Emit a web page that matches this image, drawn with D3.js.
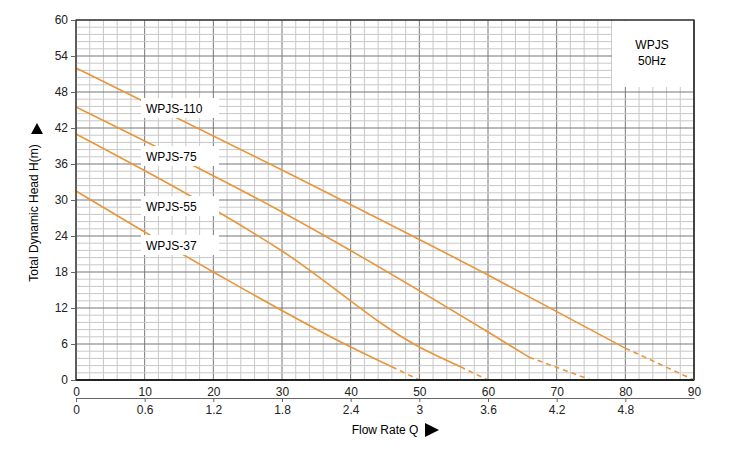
<!DOCTYPE html>
<html><head><meta charset="utf-8">
<script src="https://cdn.jsdelivr.net/npm/d3@7"></script>
<style>body{margin:0;background:#fff;font-family:"Liberation Sans",Arial,sans-serif;}</style>
</head><body><div id="chart"></div>
<script>
// flow in L/min, head in m
var names = ["WPJS-110", "WPJS-75", "WPJS-55", "WPJS-37"];
var flows = [
  [0, 30, 60, 80, 90],
  [0, 30, 60, 66, 75],
  [0, 30, 50, 56, 60],
  [0, 20, 40, 46, 50]
];
var heads = [
  [52, 35, 17.5, 5.3, 0],
  [45.5, 28, 8, 3.8, 0],
  [41, 21.5, 5.5, 2.2, 0],
  [31.5, 18, 5.5, 2.2, 0]
];
var dashFrom = [80, 66, 56, 46];   // curve dashed beyond this flow
var labelY = [111, 159, 209, 248];
var yTicks = [0, 6, 12, 18, 24, 30, 36, 42, 48, 54, 60];
var xTicks = [0, 10, 20, 30, 40, 50, 60, 70, 80, 90];
var x2Ticks = [0, 0.6, 1.2, 1.8, 2.4, 3, 3.6, 4.2, 4.8];

var svg = d3.select("#chart").append("svg").attr("width", 750).attr("height", 450);
var x = d3.scaleLinear().domain([0, 90]).range([76, 694]);
var x2 = d3.scaleLinear().domain([0, 5.4]).range([76, 694]);
var y = d3.scaleLinear().domain([0, 60]).range([380, 20]);

// grid
var g = svg.append("g");
g.selectAll(".mx").data(d3.range(0, 90.01, 2)).enter().append("line")
  .attr("x1", d => x(d)).attr("x2", d => x(d)).attr("y1", y(0)).attr("y2", y(60))
  .attr("stroke", d => d % 10 === 0 ? "#777" : "#c8c8c8").attr("stroke-width", 1);
g.selectAll(".my").data(d3.range(0, 60.01, 1.2)).enter().append("line")
  .attr("x1", x(0)).attr("x2", x(90)).attr("y1", d => y(d)).attr("y2", d => y(d))
  .attr("stroke", d => Math.abs(d / 6 - Math.round(d / 6)) < 1e-6 ? "#777" : "#c8c8c8").attr("stroke-width", 1);

// legend box
svg.append("rect").attr("x", 612).attr("y", y(60) + 1).attr("width", x(90) - 613).attr("height", 66).attr("fill", "#fff");
svg.append("text").attr("x", 652).attr("y", 49).attr("text-anchor", "middle").attr("font-size", 12).text("WPJS");
svg.append("text").attr("x", 652).attr("y", 65).attr("text-anchor", "middle").attr("font-size", 12).text("50Hz");

var line = d3.line().x(d => x(d[0])).y(d => y(d[1])).curve(d3.curveMonotoneX);
names.forEach(function(n, i) {
  var pts = flows[i].map((f, j) => [f, heads[i][j]]);
  svg.append("path").datum(pts.filter(p => p[0] <= dashFrom[i])).attr("d", line)
    .attr("fill", "none").attr("stroke", "#e8963a").attr("stroke-width", 1.6);
  svg.append("path").datum(pts.filter(p => p[0] >= dashFrom[i])).attr("d", line)
    .attr("fill", "none").attr("stroke", "#e8963a").attr("stroke-width", 1.6).attr("stroke-dasharray", "5,4");
  svg.append("rect").attr("x", 141).attr("y", labelY[i] - 13).attr("width", 78).attr("height", 20).attr("fill", "#fff");
  svg.append("text").attr("x", 146).attr("y", labelY[i] + 2).attr("font-size", 12).text(n);
});

// frame
svg.append("rect").attr("x", x(0)).attr("y", y(60)).attr("width", x(90) - x(0)).attr("height", y(0) - y(60))
  .attr("fill", "none").attr("stroke", "#222").attr("stroke-width", 1.2);
svg.append("line").attr("x1", x(0)).attr("x2", x(90)).attr("y1", y(0)).attr("y2", y(0)).attr("stroke", "#222").attr("stroke-width", 2);
svg.append("line").attr("x1", x(90)).attr("x2", x(90)).attr("y1", y(0)).attr("y2", y(60)).attr("stroke", "#444").attr("stroke-width", 2);

var ya = svg.append("g").attr("transform", "translate(" + x(0) + ",0)")
  .call(d3.axisLeft(y).tickValues(yTicks).tickSize(5));
ya.select(".domain").remove();
var xa = svg.append("g").attr("transform", "translate(0," + y(0) + ")")
  .call(d3.axisBottom(x).tickValues(xTicks).tickSize(0).tickPadding(7));
xa.select(".domain").remove();
var xb = svg.append("g").attr("transform", "translate(0,398)")
  .call(d3.axisBottom(x2).tickValues(x2Ticks).tickFormat(d3.format("~g")).tickSize(4).tickSizeOuter(0).tickPadding(3));
[ya, xa, xb].forEach(a => { a.selectAll("text").attr("font-size", 12).attr("fill", "#222")
  .attr("font-family", "Liberation Sans, Arial, sans-serif"); a.selectAll("line,path").attr("stroke", "#666"); });

svg.append("text").attr("transform", "translate(38,213) rotate(-90)").attr("text-anchor", "middle")
  .attr("font-size", 12).text("Total Dynamic Head H(m)");
svg.append("path").attr("d", "M31,134 L43,134 L37,123 Z").attr("fill", "#000");
svg.append("text").attr("x", 385).attr("y", 434).attr("text-anchor", "middle").attr("font-size", 12).text("Flow Rate Q");
svg.append("path").attr("d", "M425,423 L425,437 L439,430 Z").attr("fill", "#000");
</script></body></html>
